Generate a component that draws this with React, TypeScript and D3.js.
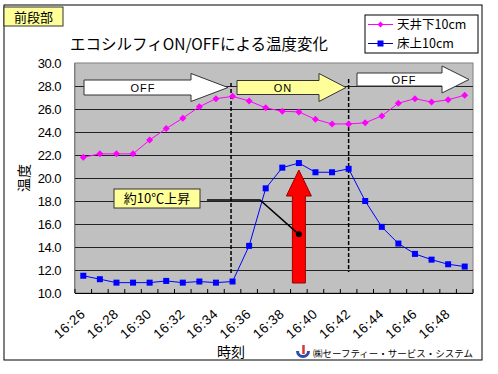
import React from 'react';
import * as d3 from 'd3';

const times = [
  '16:26', '16:27', '16:28', '16:29', '16:30', '16:31', '16:32', '16:33',
  '16:34', '16:35', '16:36', '16:37', '16:38', '16:39', '16:40', '16:41',
  '16:42', '16:43', '16:44', '16:45', '16:46', '16:47', '16:48', '16:49',
];
const ceilingTemps = [
  21.8, 22.1, 22.1, 22.1, 23.3, 24.3, 25.2, 26.2, 26.9, 27.1, 26.7, 26.1,
  25.8, 25.75, 25.1, 24.7, 24.7, 24.8, 25.4, 26.5, 26.9, 26.6, 26.8, 27.2,
];
const floorTemps = [
  11.5, 11.2, 10.9, 10.9, 10.9, 11.05, 10.9, 11.0, 10.9, 11.0, 14.1, 19.1,
  20.9, 21.3, 20.5, 20.5, 20.8, 18.0, 15.75, 14.3, 13.4, 12.9, 12.5, 12.3,
];
const yTicks = [10, 12, 14, 16, 18, 20, 22, 24, 26, 28, 30];
const seriesNames = ['天井下10cm', '床上10cm'];
const switchTimes = ['16:35', '16:42'];

const JP = '"Noto Sans CJK JP", "Noto Sans", sans-serif';
const NUM = '"Liberation Sans", Arial, sans-serif';

const arrowPath = (x0: number, x1: number, headX: number, cy: number, bh: number, hh: number) =>
  `M${x0},${cy - bh} L${headX},${cy - bh} L${headX},${cy - hh} L${x1},${cy} L${headX},${cy + hh} L${headX},${cy + bh} L${x0},${cy + bh} Z`;

const App: React.FC = () => {
  const width = 498;
  const height = 374;
  const plot = { left: 75, right: 473, top: 63, bottom: 293 };

  const x = d3.scaleBand().domain(times).range([plot.left, plot.right]);
  const cx = (t: string) => (x(t) ?? 0) + x.bandwidth() / 2;
  const y = d3.scaleLinear().domain([10, 30]).range([plot.bottom, plot.top]);

  const line = d3.line<number>().x((_, i) => cx(times[i])).y(d => y(d));

  const diamond = (px: number, py: number, r = 3.5) =>
    `M${px},${py - r} L${px + r},${py} L${px},${py + r} L${px - r},${py} Z`;

  const peakT = '16:39';
  const px = cx(peakT);

  return (
    <svg width={width} height={height} style={{ position: 'absolute', left: 0, top: 0, background: '#fff' }}>
      {/* outer frame */}
      <rect x={4} y={5} width={478} height={355} fill="#fff" stroke="#000" strokeWidth={1} />

      {/* section label */}
      <rect x={4} y={7} width={59} height={19} fill="#ffff99" stroke="#333" strokeWidth={1} />
      <text x={33.5} y={22} textAnchor="middle" fontFamily={JP} fontSize={13} fill="#000">前段部</text>

      {/* title */}
      <text x={70} y={50} fontFamily={JP} fontSize={15.5} fill="#000">エコシルフィON/OFFによる温度変化</text>

      {/* legend */}
      <rect x={365} y={15} width={113} height={38} fill="#fff" stroke="#000" strokeWidth={1} />
      <line x1={368} x2={393} y1={24.5} y2={24.5} stroke="#ff00ff" strokeWidth={1} />
      <path d={diamond(380.5, 24.5, 3)} fill="#ff00ff" />
      <text x={397} y={29} fontFamily={JP} fontSize={12.5} fill="#000">{seriesNames[0]}</text>
      <line x1={368} x2={393} y1={43.5} y2={43.5} stroke="#0000aa" strokeWidth={1} />
      <rect x={377.5} y={40.5} width={6} height={6} fill="#0000ff" />
      <text x={397} y={48} fontFamily={JP} fontSize={12.5} fill="#000">{seriesNames[1]}</text>

      {/* plot area */}
      <rect x={plot.left} y={plot.top} width={plot.right - plot.left} height={plot.bottom - plot.top} fill="#c0c0c0" stroke="#808080" strokeWidth={1} />
      {yTicks.map(v => (
        <g key={v}>
          {v > 10 && v < 30 && (
            <line x1={plot.left} x2={plot.right} y1={Math.round(y(v)) + 0.5} y2={Math.round(y(v)) + 0.5} stroke="#222" strokeWidth={1} />
          )}
          <text x={61} y={y(v) + 4.5} textAnchor="end" fontFamily={NUM} fontSize={13} fill="#000" letterSpacing={-0.5}>
            {v.toFixed(1)}
          </text>
        </g>
      ))}
      <line x1={plot.left} x2={plot.right} y1={plot.bottom + 0.5} y2={plot.bottom + 0.5} stroke="#000" />
      <line x1={plot.left - 0.5} x2={plot.left - 0.5} y1={plot.top} y2={plot.bottom} stroke="#808080" />
      {times.map(t => (
        <line key={t} x1={x(t) ?? 0} x2={x(t) ?? 0} y1={plot.bottom} y2={plot.bottom - 4} stroke="#000" />
      ))}
      <line x1={plot.right} x2={plot.right} y1={plot.bottom} y2={plot.bottom - 4} stroke="#000" />

      {/* x tick labels */}
      {times.map((t, i) =>
        i % 2 === 0 ? (
          <text
            key={t}
            transform={`translate(${cx(t) + 3},${plot.bottom + 22}) rotate(-42)`}
            textAnchor="end"
            fontFamily={NUM}
            fontSize={13.5}
            letterSpacing={0.6}
            fill="#000"
          >
            {t}
          </text>
        ) : null
      )}

      {/* axis titles */}
      <text transform="translate(29,178) rotate(-90)" textAnchor="middle" fontFamily={JP} fontSize={14} fill="#000">温度</text>
      <text x={231} y={357} textAnchor="middle" fontFamily={JP} fontSize={14} fill="#000">時刻</text>

      {/* state arrows */}
      <path d={arrowPath(84, 228, 191, 87.5, 7.5, 14)} fill="#fff" stroke="#333" strokeWidth={1} />
      <text x={143} y={92} textAnchor="middle" fontFamily={NUM} fontSize={11} letterSpacing={1} fill="#000">OFF</text>
      <path d={arrowPath(237, 346, 319, 87.5, 7, 14)} fill="#ffff99" stroke="#333" strokeWidth={1} />
      <text x={283} y={92} textAnchor="middle" fontFamily={NUM} fontSize={11} letterSpacing={1} fill="#000">ON</text>
      <path d={arrowPath(357, 469, 442, 79.5, 6.5, 13.5)} fill="#fff" stroke="#333" strokeWidth={1} />
      <text x={404} y={84} textAnchor="middle" fontFamily={NUM} fontSize={11} letterSpacing={1} fill="#000">OFF</text>

      {/* switch lines */}
      <line x1={cx(switchTimes[0]) - 1.5} x2={cx(switchTimes[0]) - 1.5} y1={83} y2={275} stroke="#000" strokeWidth={1.5} strokeDasharray="4,2" />
      <line x1={cx(switchTimes[1])} x2={cx(switchTimes[1])} y1={79} y2={272} stroke="#000" strokeWidth={1.5} strokeDasharray="4,2" />

      {/* series */}
      <path d={line(ceilingTemps) ?? ''} fill="none" stroke="#ff00ff" strokeWidth={1} />
      {ceilingTemps.map((v, i) => (
        <path key={i} d={diamond(cx(times[i]), y(v))} fill="#ff00ff" />
      ))}
      <path d={line(floorTemps) ?? ''} fill="none" stroke="#0000ff" strokeWidth={1} />
      {floorTemps.map((v, i) => (
        <rect key={i} x={cx(times[i]) - 3} y={y(v) - 3} width={6} height={6} fill="#0000ff" />
      ))}

      {/* red arrow */}
      <path
        d={`M${px},${170} L${px + 12.5},${196} L${px + 6.5},${196} L${px + 6.5},${283} L${px - 6.5},${283} L${px - 6.5},${196} L${px - 12.5},${196} Z`}
        fill="#ff0000"
        stroke="#990000"
        strokeWidth={1}
      />

      {/* callout */}
      <polyline points={`207,200 260,200 ${px},${y(15.1)}`} fill="none" stroke="#000" strokeWidth={1.5} />
      <circle cx={px} cy={y(15.1)} r={3} fill="#000" />
      <rect x={114} y={189} width={86} height={19} fill="#ffff99" stroke="#333" strokeWidth={1} />
      <text x={157} y={203} textAnchor="middle" fontFamily={JP} fontSize={13} fill="#000">約10℃上昇</text>

      {/* logo */}
      <g transform="translate(303,353)">
        <path d="M-7,-2 A7,7 0 0 0 7,-2 L4,-2 A4,4 0 0 1 -4,-2 Z" fill="#2b4fa8" />
        <path d="M0.5,-8 L0.5,1" fill="none" stroke="#d33" strokeWidth={2.5} />
      </g>
      <text x={313} y={357} fontFamily={JP} fontSize={9.5} fill="#000">㈱セーフティー・サービス・システム</text>
    </svg>
  );
};

export default App;
